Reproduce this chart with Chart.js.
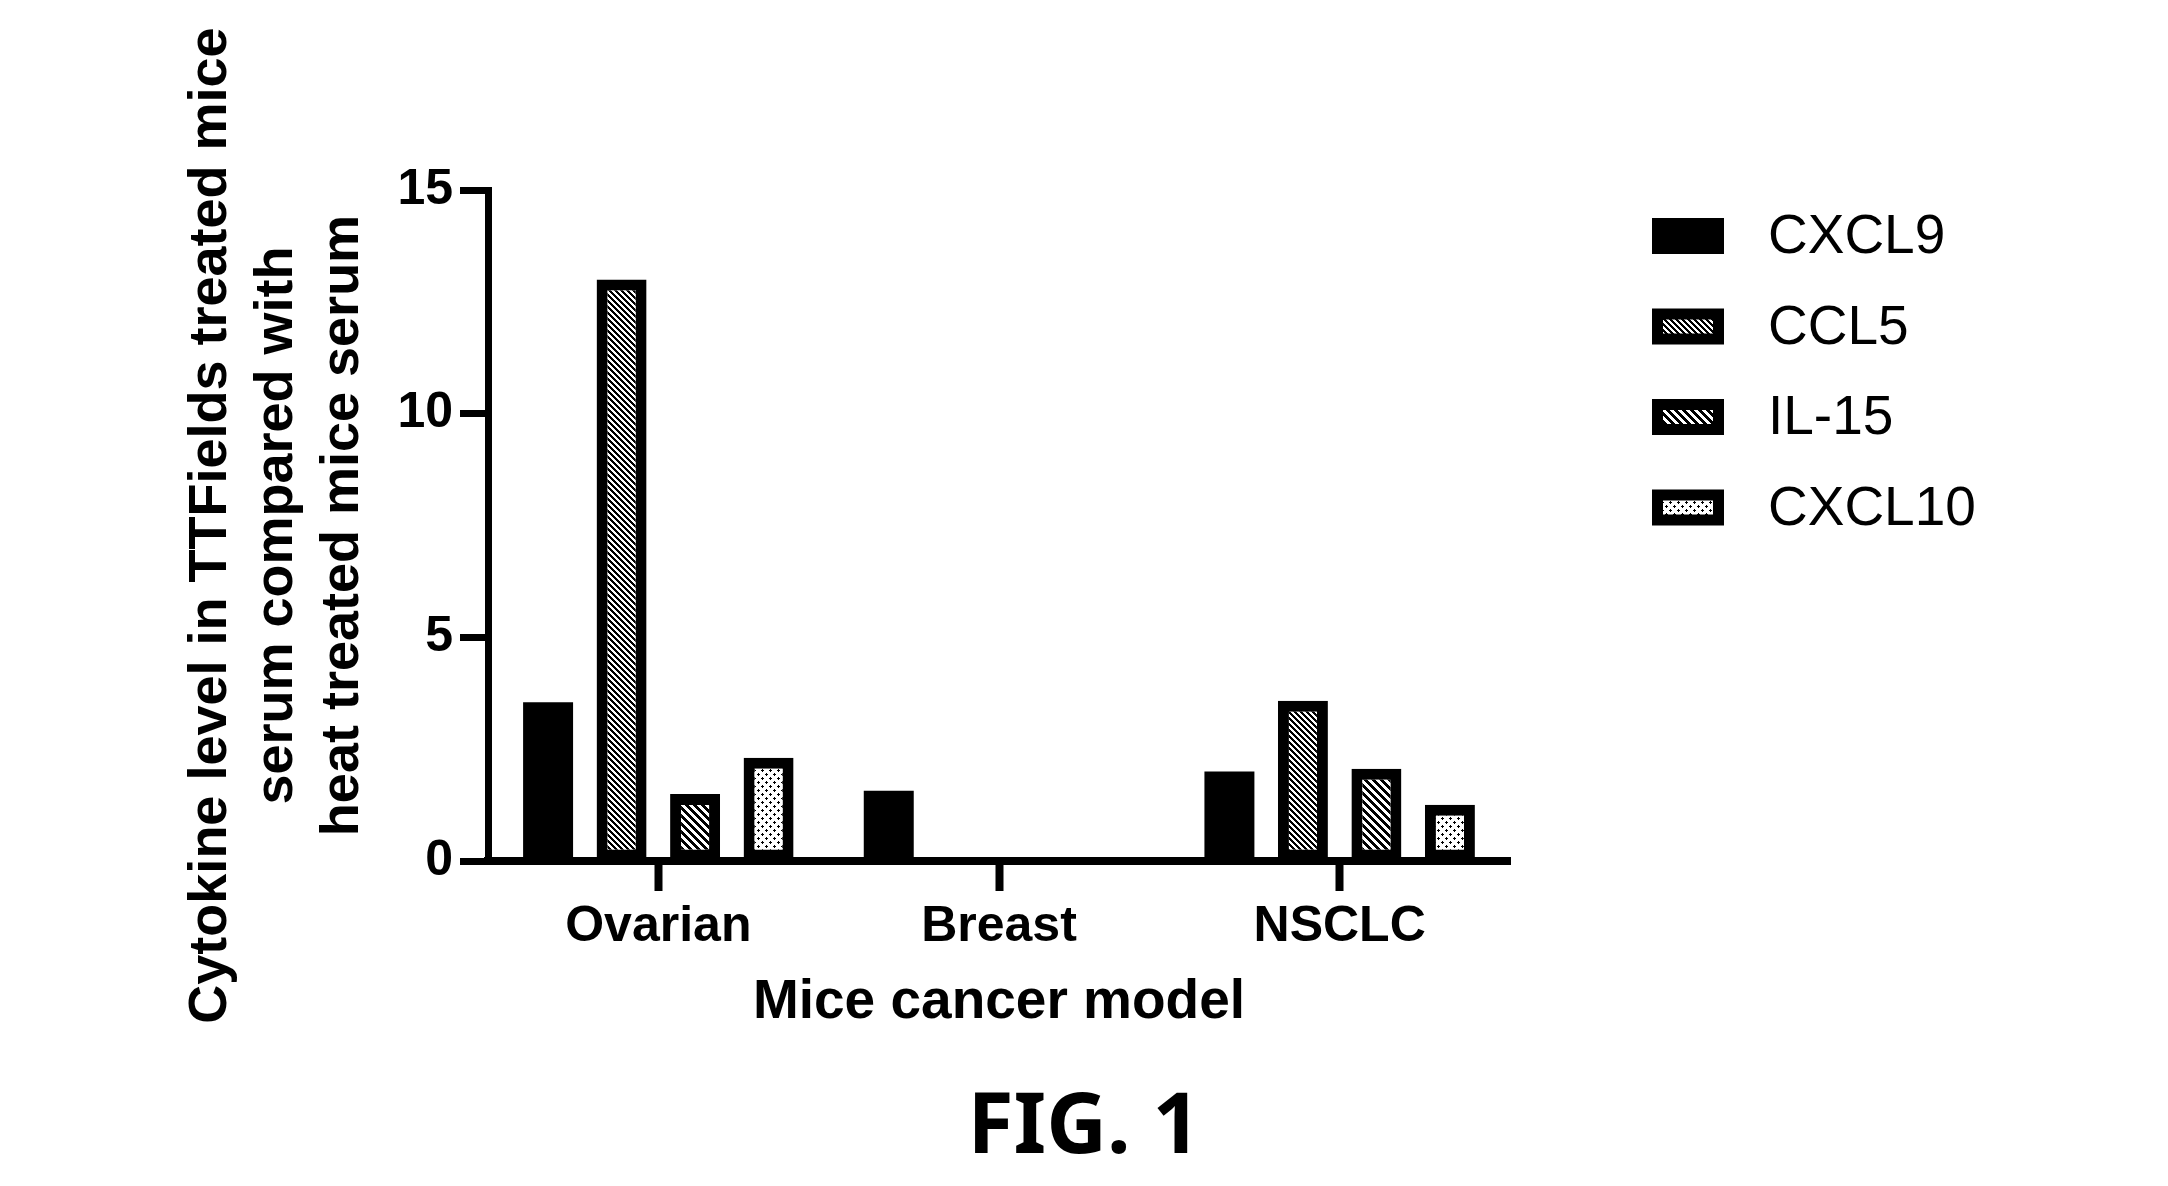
<!DOCTYPE html>
<html>
<head>
<meta charset="utf-8">
<script src="https://cdn.jsdelivr.net/npm/chart.js@4.4.1/dist/chart.umd.min.js"></script>
<style>
  html, body { margin: 0; padding: 0; background: #fff; }
  #wrap { width: 2168px; height: 1186px; }
</style>
</head>
<body>
<div id="wrap"><canvas id="cytokineChart" width="2168" height="1186"></canvas></div>
<script>
// Values (fold change, TTFields vs heat treated serum)
const models = ["Ovarian", "Breast", "NSCLC"];
const cxcl9 = [3.55, 1.57, 2.0];
const ccl5 = [13.0, 0, 3.58];
const il15 = [1.5, 0, 2.06];
const cxcl10 = [2.31, 0, 1.26];
const yTicks = [0, 5, 10, 15];

const yTitle = [
  "Cytokine level in TTFields treated mice",
  "serum compared with",
  "heat treated mice serum"
];
const xTitle = "Mice cancer model";
const figLabel = "FIG. 1";

const FONT = "'Liberation Sans', Arial, Helvetica, sans-serif";

// Helpers: small black/white fill patterns like the printed figure
function makePattern(size, paint){
  const c = document.createElement("canvas");
  c.width = size; c.height = size;
  const g = c.getContext("2d");
  g.fillStyle = "#fff";
  g.fillRect(0, 0, size, size);
  g.fillStyle = "#000";
  paint(g, size);
  return g.createPattern(c, "repeat");
}
function stripes(size, w){
  return makePattern(size, (g, s) => {
    for (let y = 0; y < s; y++){
      for (let x = 0; x < s; x++){
        if ((((x - y) % s) + s) % s < w) g.fillRect(x, y, 1, 1);
      }
    }
  });
}
function plus(g, cx, cy){
  g.fillRect(cx - 1, cy, 3, 1);
  g.fillRect(cx, cy - 1, 1, 3);
}

const ccl5Fill = stripes(6, 3);
const il15Fill = stripes(8, 4);
const cxcl10Fill = makePattern(8, g => { plus(g, 2, 2); plus(g, 6, 6); });

// Legend at the right + figure caption centred on the page
const sideLegend = {
  id: "sideLegend",
  afterDraw(chart){
    const ctx = chart.ctx;
    ctx.save();
    chart.data.datasets.forEach((ds, i) => {
      const cy = 236 + i * 90.5;
      const x = 1652, w = 72, h = 36;
      ctx.fillStyle = "#000";
      ctx.fillRect(x, cy - h / 2, w, h);
      if (ds.borderWidth){
        const b = 11;
        ctx.fillStyle = ds.backgroundColor;
        ctx.fillRect(x + b, cy - h / 2 + b, w - 2 * b, h - 2 * b);
      }
      ctx.fillStyle = "#000";
      ctx.font = "55px " + FONT;
      ctx.textAlign = "left";
      ctx.textBaseline = "middle";
      ctx.fillText(ds.label, 1768, cy + 2);
    });

    // caption
    ctx.fillStyle = "#000";
    ctx.font = "bold 84px 'Noto Sans', 'Open Sans', sans-serif";
    ctx.textAlign = "center";
    ctx.textBaseline = "middle";
    ctx.fillText(figLabel, chart.width / 2, 1129);
    ctx.restore();
  }
};

function barSet(label, data, fill, bordered){
  return {
    label,
    data,
    backgroundColor: fill,
    borderColor: "#000",
    borderWidth: bordered ? 11 : 0,
    borderSkipped: false,
    categoryPercentage: 0.863,
    barPercentage: 0.68
  };
}

const ctx = document.getElementById("cytokineChart").getContext("2d");
new Chart(ctx, {
  type: "bar",
  data: {
    labels: models,
    datasets: [
      barSet("CXCL9", cxcl9, "#000", false),
      barSet("CCL5", ccl5, ccl5Fill, true),
      barSet("IL-15", il15, il15Fill, true),
      barSet("CXCL10", cxcl10, cxcl10Fill, true)
    ]
  },
  options: {
    responsive: false,
    animation: false,
    devicePixelRatio: 1,
    layout: { padding: { top: 190, right: 658, bottom: 107, left: 178 } },
    plugins: {
      legend: { display: false },
      tooltip: { enabled: false }
    },
    scales: {
      x: {
        afterFit(scale){ scale.height = 218; },
        border: { display: true, color: "#000", width: 8 },
        grid: { display: true, drawOnChartArea: false, drawTicks: true, offset: false,
                tickLength: 30, tickWidth: 8, tickColor: "#000", color: "#000" },
        ticks: { color: "#000", padding: 6, font: { family: FONT, size: 50, weight: "bold" } },
        title: {
          display: true, text: xTitle, color: "#000",
          font: { family: FONT, size: 55, weight: "bold", lineHeight: 1.2 },
          padding: { top: 0, bottom: 43 }
        }
      },
      y: {
        min: 0,
        max: 15,
        afterFit(scale){ scale.width = 310; },
        afterBuildTicks(scale){ scale.ticks = yTicks.map(v => ({ value: v })); },
        border: { display: true, color: "#000", width: 7 },
        grid: { display: true, drawOnChartArea: false, drawTicks: true,
                tickLength: 28, tickWidth: 7, tickColor: "#000", color: "#000" },
        ticks: { color: "#000", padding: 7, font: { family: FONT, size: 50, weight: "bold" } },
        title: {
          display: true, text: yTitle, color: "#000",
          font: { family: FONT, size: 54, weight: "bold", lineHeight: 1.222 },
          padding: { top: 0, bottom: 0 }
        }
      }
    }
  },
  plugins: [sideLegend]
});
</script>
</body>
</html>
